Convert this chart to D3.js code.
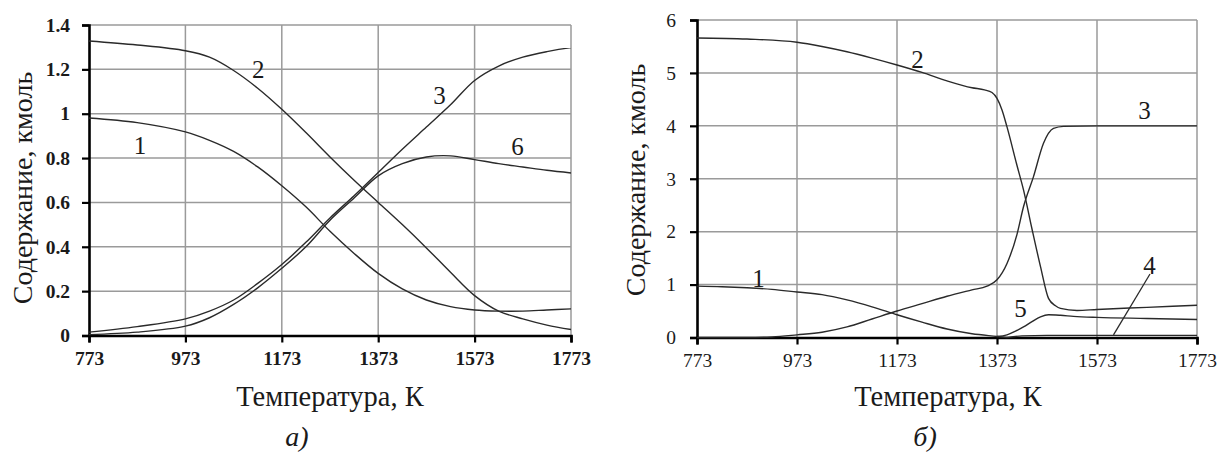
<!DOCTYPE html>
<html><head><meta charset="utf-8">
<script src="https://cdn.jsdelivr.net/npm/d3@7"></script>
<style>
html,body{margin:0;padding:0;background:#fff;}
svg{display:block;}
text{font-family:"Liberation Serif","Times New Roman",serif;fill:#1a1a1a;}
</style></head>
<body>
<svg id="c" width="1227" height="452"></svg>
<script>
// ---------- DATA ----------
const xTicks = [773, 973, 1173, 1373, 1573, 1773];
const yTicksA = [0, 0.2, 0.4, 0.6, 0.8, 1, 1.2, 1.4];
const yTicksB = [0, 1, 2, 3, 4, 5, 6];

// Panel а)
const tA = [773, 873, 973, 1023, 1073, 1123, 1173, 1223, 1273, 1323, 1373, 1423, 1473, 1523, 1573, 1623, 1673, 1723, 1773];
const a1 = [0.981, 0.960, 0.918, 0.880, 0.830, 0.760, 0.675, 0.580, 0.470, 0.370, 0.280, 0.210, 0.160, 0.130, 0.115, 0.110, 0.110, 0.115, 0.120];
const a2 = [1.328, 1.310, 1.284, 1.255, 1.195, 1.115, 1.020, 0.915, 0.805, 0.700, 0.600, 0.500, 0.395, 0.285, 0.180, 0.110, 0.075, 0.047, 0.027];
const a3 = [0.015, 0.040, 0.075, 0.110, 0.160, 0.235, 0.320, 0.420, 0.530, 0.630, 0.735, 0.840, 0.940, 1.040, 1.150, 1.215, 1.255, 1.280, 1.298];
const a6 = [0.004, 0.015, 0.042, 0.080, 0.140, 0.215, 0.303, 0.400, 0.520, 0.620, 0.720, 0.775, 0.805, 0.810, 0.793, 0.775, 0.760, 0.745, 0.733];

// Panel б)
const tB1 = [773, 823, 873, 923, 973, 1023, 1073, 1123, 1173, 1223, 1273, 1323, 1373, 1393];
const b1  = [0.97, 0.96, 0.94, 0.91, 0.86, 0.81, 0.71, 0.58, 0.43, 0.29, 0.16, 0.07, 0.02, 0.0];
const tB2 = [773, 873, 973, 1023, 1073, 1123, 1173, 1223, 1273, 1323, 1348, 1363, 1373, 1383, 1393, 1413, 1426, 1443, 1460, 1476, 1490, 1500, 1533, 1573, 1673, 1773];
const b2  = [5.66, 5.64, 5.58, 5.50, 5.40, 5.28, 5.15, 5.01, 4.85, 4.72, 4.68, 4.63, 4.52, 4.30, 3.98, 3.25, 2.79, 2.05, 1.34, 0.74, 0.60, 0.55, 0.51, 0.53, 0.57, 0.61];
const tB3 = [773, 873, 923, 973, 1023, 1073, 1123, 1173, 1223, 1273, 1323, 1353, 1373, 1393, 1413, 1426, 1446, 1466, 1486, 1506, 1573, 1673, 1773];
const b3  = [0.00, 0.00, 0.01, 0.05, 0.10, 0.20, 0.35, 0.50, 0.64, 0.78, 0.90, 0.97, 1.09, 1.40, 1.95, 2.47, 3.04, 3.67, 3.95, 3.99, 4.00, 4.00, 4.00];
const tB4 = [1393, 1423, 1473, 1573, 1673, 1773];
const b4  = [0.00, 0.03, 0.04, 0.04, 0.04, 0.04];
const tB5 = [1373, 1393, 1410, 1426, 1443, 1460, 1476, 1500, 1526, 1573, 1673, 1773];
const b5  = [0.02, 0.05, 0.12, 0.20, 0.30, 0.39, 0.43, 0.42, 0.40, 0.38, 0.36, 0.34];

// curve number labels: [text, T, value]
const labelsA = [["1", 879, 0.86], ["2", 1124, 1.20], ["3", 1500, 1.085], ["6", 1662, 0.852]];
const labelsB = [["1", 896, 1.12], ["2", 1214, 5.26], ["3", 1668, 4.30], ["4", 1678, 1.37], ["5", 1420, 0.55]];
const leader4 = [[1679, 1.20], [1606, 0.05]];

const xTitle = "Температура, К";
const yTitle = "Содержание, кмоль";

// ---------- DRAW ----------
const svg = d3.select("#c");
svg.append("rect").attr("width", 1227).attr("height", 452).attr("fill", "#fff");

function panel(cfg) {
  const x = d3.scaleLinear().domain([773, 1773]).range(cfg.xr);
  const y = d3.scaleLinear().domain([0, cfg.ymax]).range(cfg.yr);
  const g = svg.append("g");
  // grid
  g.selectAll(".vg").data(xTicks.slice(1)).enter().append("line")
    .attr("x1", d => x(d)).attr("x2", d => x(d)).attr("y1", y(0)).attr("y2", y(cfg.ymax))
    .attr("stroke", "#9a9a9a").attr("stroke-width", 1.5);
  g.selectAll(".hg").data(cfg.yt.slice(1)).enter().append("line")
    .attr("x1", x(773)).attr("x2", x(1773)).attr("y1", d => y(d)).attr("y2", d => y(d))
    .attr("stroke", "#9a9a9a").attr("stroke-width", 1.5);
  // axes
  const ax = g.append("g").attr("transform", `translate(0,${y(0)})`)
    .call(d3.axisBottom(x).tickValues(xTicks).tickSize(7).tickPadding(9).tickFormat(d3.format("d")));
  const ay = g.append("g").attr("transform", `translate(${x(773)},0)`)
    .call(d3.axisLeft(y).tickValues(cfg.yt).tickSize(7).tickPadding(cfg.ypad).tickFormat(cfg.yfmt));
  [ax, ay].forEach(a => {
    a.select(".domain").attr("stroke", "#000").attr("stroke-width", 2.6);
    a.selectAll(".tick line").attr("stroke", "#000").attr("stroke-width", 2.2);
    a.selectAll(".tick text").attr("font-family", "Liberation Serif, serif")
      .attr("font-size", cfg.tickFs).attr("font-weight", cfg.tickW).attr("fill", "#1a1a1a");
  });
  // curves
  const line = d3.line().x(d => x(d[0])).y(d => y(d[1])).curve(cfg.curve);
  cfg.series.forEach(s => {
    g.append("path").datum(s[0].map((t, i) => [t, s[1][i]]))
      .attr("d", line).attr("fill", "none").attr("stroke", "#2a2a2a").attr("stroke-width", 1.4);
  });
  if (cfg.leader) {
    g.append("line").attr("x1", x(cfg.leader[0][0])).attr("y1", y(cfg.leader[0][1]))
      .attr("x2", x(cfg.leader[1][0])).attr("y2", y(cfg.leader[1][1]))
      .attr("stroke", "#2a2a2a").attr("stroke-width", 1.3);
  }
  cfg.labels.forEach(l => {
    g.append("text").attr("x", x(l[1])).attr("y", y(l[2])).attr("dy", "0.35em")
      .attr("text-anchor", "middle").attr("font-size", 25).text(l[0]);
  });
  // titles
  g.append("text").attr("x", cfg.xtx).attr("y", 406).attr("text-anchor", "middle")
    .attr("font-size", 28.5).text(xTitle);
  g.append("text").attr("transform", `translate(${cfg.ytx},${cfg.yty}) rotate(-90)`)
    .attr("text-anchor", "middle").attr("font-size", 28).text(yTitle);
  g.append("text").attr("x", cfg.captX).attr("y", 446).attr("text-anchor", "middle")
    .attr("font-size", 28).attr("font-style", "italic").text(cfg.cap);
}

panel({
  xr: [89, 571], yr: [335.5, 25], ymax: 1.4, yt: yTicksA, ypad: 12,
  yfmt: d => d3.format("")(+d.toFixed(1)), tickFs: 19.5, tickW: "bold",
  curve: d3.curveCatmullRom.alpha(0.5),
  series: [[tA, a1], [tA, a2], [tA, a3], [tA, a6]], labels: labelsA,
  xtx: 330, ytx: 32, yty: 188, captX: 297, cap: "а)"
});
panel({
  xr: [697, 1197], yr: [337.5, 20], ymax: 6, yt: yTicksB, ypad: 14,
  yfmt: d3.format("d"), tickFs: 19.5, tickW: "normal",
  curve: d3.curveMonotoneX,
  series: [[tB1, b1], [tB2, b2], [tB3, b3], [tB4, b4], [tB5, b5]], labels: labelsB, leader: leader4,
  xtx: 948, ytx: 645, yty: 180, captX: 925, cap: "б)"
});
</script>
</body></html>
